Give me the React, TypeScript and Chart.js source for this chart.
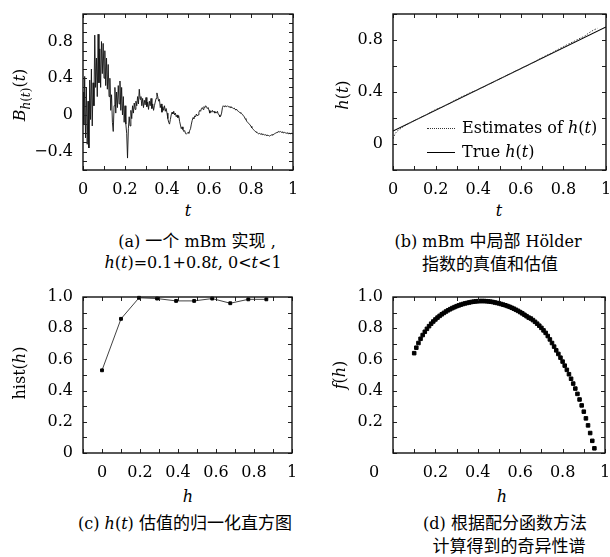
import React, { useEffect, useRef } from "react";
import { Chart, registerables } from "chart.js";
Chart.register(...registerables);

// ---------------- data ----------------
// (a) one mBm realisation, sampled every A_T_STEP in t
const A_T_STEP = 0.004;
const A_VALUES = [
  0.25, -0.1, 0.42, -0.25, 0.3, -0.32, 0.15, -0.36, 0.38, -0.05,
  0.5, -0.12, 0.35, 0.1, 0.87, 0.3, 0.62, 0.2, 0.88, 0.35,
  0.72, 0.3, 0.8, 0.45, 0.78, 0.4, 0.7, 0.32, 0.62, 0.28,
  0.55, 0.2, 0.4, 0.05, 0.22, -0.08, -0.18, 0.1, 0.3, 0.02,
  0.25, 0.08, 0.32, 0.12, 0.37, 0.05, 0.3, 0.0, 0.2, -0.08,
  0.1, -0.1, -0.2, -0.47, -0.15, -0.02, -0.12, 0.05, -0.04, 0.1,
  0.02, 0.13, 0.06, 0.15, 0.1, 0.2, 0.12, 0.28, 0.17, 0.2,
  0.1, 0.18, 0.08, 0.16, 0.11, 0.19, 0.09, 0.14, 0.06, 0.15,
  0.1, 0.18, 0.07, 0.12, 0.05, 0.1, 0.14, 0.18, 0.24, 0.2,
  0.15, 0.17, 0.08, 0.12, 0.03, 0.09, 0.05, 0.1, 0.04, 0.07,
  0.02, -0.04, -0.08, -0.1, -0.05, 0.0, 0.03, 0.01, 0.04, 0.0,
  0.02, -0.02, 0.0, -0.03, -0.01, -0.07, -0.11, -0.15, -0.13, -0.16,
  -0.18, -0.17, -0.2, -0.21, -0.2, -0.19, -0.2, -0.17, -0.15, -0.1,
  -0.06, -0.03, -0.04, -0.01, -0.02, 0.01, -0.01, 0.0, 0.03, 0.05,
  0.04, 0.07, 0.08, 0.06, 0.09, 0.08, 0.1, 0.09, 0.07, 0.08,
  0.05, 0.02, 0.04, 0.03, 0.05, 0.03, 0.04, 0.02, 0.03, 0.02,
  0.04, 0.01, 0.0, -0.02, -0.01, 0.02, 0.08, 0.1, 0.09, 0.1,
  0.095, 0.09, 0.1, 0.09, 0.085, 0.09, 0.08, 0.085, 0.075, 0.07,
  0.075, 0.06, 0.055, 0.06, 0.045, 0.04, 0.03, 0.025, 0.02, 0.01,
  0.005, -0.01, -0.02, -0.04, -0.05, -0.07, -0.08, -0.09, -0.1, -0.11,
  -0.125, -0.14, -0.15, -0.16, -0.17, -0.18, -0.185, -0.19, -0.2, -0.205,
  -0.2, -0.21, -0.205, -0.21, -0.215, -0.21, -0.22, -0.215, -0.22, -0.225,
  -0.22, -0.225, -0.23, -0.225, -0.22, -0.215, -0.22, -0.21, -0.205, -0.2,
  -0.195, -0.19, -0.185, -0.18, -0.185, -0.18, -0.19, -0.185, -0.19, -0.195,
  -0.19, -0.195, -0.2, -0.195, -0.2, -0.205, -0.2, -0.205, -0.2, -0.205,
  -0.2,
];
const A_X_TICKS = [0, 0.2, 0.4, 0.6, 0.8, 1];
const A_Y_TICKS = [-0.4, 0, 0.4, 0.8];

// (b) local Hölder exponent: estimates and true values
const B_EST_T = [0, 0.01, 0.02, 0.05, 0.1, 0.15, 0.2, 0.25, 0.3, 0.35, 0.4, 0.45, 0.5, 0.55, 0.6, 0.65, 0.7, 0.75, 0.8, 0.85, 0.88, 0.9, 0.92, 0.94, 0.96];
const B_EST_H = [0.04, 0.08, 0.1, 0.135, 0.18, 0.22, 0.265, 0.3, 0.345, 0.385, 0.42, 0.46, 0.5, 0.54, 0.58, 0.62, 0.665, 0.705, 0.75, 0.79, 0.815, 0.83, 0.855, 0.875, 0.89];
const B_TRUE_T = [0, 1];
const B_TRUE_H = [0.1, 0.9];
const B_X_TICKS = [0, 0.2, 0.4, 0.6, 0.8, 1];
const B_Y_TICKS = [0, 0.4, 0.8];

// (c) normalised histogram of h(t) estimates
const C_H = [0, 0.1, 0.195, 0.29, 0.39, 0.485, 0.58, 0.675, 0.77, 0.865];
const C_HIST = [0.53, 0.86, 0.995, 0.99, 0.975, 0.975, 0.99, 0.96, 0.985, 0.985];
const C_X_TICKS = [0, 0.2, 0.4, 0.6, 0.8, 1];
const C_Y_TICKS = [0, 0.2, 0.4, 0.6, 0.8, 1.0];

// (d) singularity spectrum
const D_H = [
  0.10, 0.11, 0.12, 0.13, 0.14, 0.15, 0.16, 0.17, 0.18, 0.19,
  0.20, 0.21, 0.22, 0.23, 0.24, 0.25, 0.26, 0.27, 0.28, 0.29,
  0.30, 0.31, 0.32, 0.33, 0.34, 0.35, 0.36, 0.37, 0.38, 0.39,
  0.40, 0.41, 0.42, 0.43, 0.44, 0.45, 0.46, 0.47, 0.48, 0.49,
  0.50, 0.51, 0.52, 0.53, 0.54, 0.55, 0.56, 0.57, 0.58, 0.59,
  0.60, 0.61, 0.62, 0.63, 0.64, 0.65, 0.66, 0.67, 0.68, 0.69,
  0.70, 0.71, 0.72, 0.73, 0.74, 0.75, 0.76, 0.77, 0.78, 0.79,
  0.80, 0.81, 0.82, 0.83, 0.84, 0.85, 0.86, 0.87, 0.88, 0.89,
  0.90, 0.91, 0.92, 0.93, 0.94, 0.95,
];
const D_F = [
  0.640, 0.675, 0.705, 0.732, 0.756, 0.777, 0.796, 0.813, 0.829, 0.843,
  0.856, 0.868, 0.879, 0.889, 0.898, 0.907, 0.915, 0.922, 0.929, 0.935,
  0.941, 0.946, 0.951, 0.955, 0.959, 0.962, 0.965, 0.968, 0.970, 0.972,
  0.973, 0.974, 0.974, 0.974, 0.973, 0.972, 0.970, 0.968, 0.965, 0.962,
  0.959, 0.955, 0.951, 0.947, 0.942, 0.937, 0.931, 0.925, 0.918, 0.911,
  0.903, 0.895, 0.886, 0.877, 0.868, 0.862, 0.852, 0.841, 0.829, 0.816,
  0.802, 0.786, 0.770, 0.750, 0.728, 0.705, 0.682, 0.658, 0.635, 0.611,
  0.586, 0.560, 0.533, 0.505, 0.476, 0.445, 0.413, 0.379, 0.343, 0.305,
  0.265, 0.222, 0.177, 0.128, 0.078, 0.030,
];
const D_X_TICKS = [0, 0.2, 0.4, 0.6, 0.8, 1];
const D_Y_TICKS = [0.2, 0.4, 0.6, 0.8, 1.0];

// ---------------- styling helpers ----------------
const SERIF = "'DejaVu Serif', 'Liberation Serif', serif";
const CJK = "'Noto Sans CJK SC', sans-serif";
const TICK_FONT = { family: SERIF, size: 16 };

const fmtPlain = (v: number) => {
  if (Math.abs(v) < 1e-9) return "0";
  if (Math.abs(v - 1) < 1e-9) return "1";
  return v.toFixed(1).replace("-", "\u2212");
};
const fmtOneDec = (v: number) => (Math.abs(v) < 1e-9 ? "0" : v.toFixed(1));

function axis(
  side: "x" | "y",
  min: number,
  max: number,
  ticks: number[],
  fmt: (v: number) => string,
  size: number,
  padding: number
) {
  return {
    type: "linear",
    min,
    max,
    afterBuildTicks: (s: any) => {
      s.ticks = ticks.map((v) => ({ value: v }));
    },
    afterFit: (s: any) => {
      if (side === "x") s.height = size;
      else s.width = size;
      s.paddingLeft = 0;
      s.paddingRight = 0;
      s.paddingTop = 0;
      s.paddingBottom = 0;
    },
    ticks: {
      font: TICK_FONT,
      color: "#000",
      padding,
      autoSkip: false,
      maxRotation: 0,
      minRotation: 0,
      callback: (v: any) => fmt(Number(v)),
    },
    grid: { display: false, drawTicks: false },
    border: { display: false },
  };
}

// frame with inward tick marks on all four sides
const framePlugin = {
  id: "frame",
  afterDatasetsDraw(chart: any, _args: any, opts: any) {
    const { ctx, chartArea: a, scales } = chart;
    const xs = scales.x;
    const ys = scales.y;
    const len = opts.len ?? 4;
    const list = (min: number, max: number, step: number) => {
      const out: number[] = [];
      for (let k = Math.ceil(min / step - 1e-6); k * step <= max + 1e-9; k++) out.push(k * step);
      return out;
    };
    ctx.save();
    ctx.strokeStyle = "#222";
    ctx.lineWidth = 1;
    for (const v of list(xs.min, xs.max, opts.xStep)) {
      const px = Math.round(xs.getPixelForValue(v)) + 0.5;
      ctx.beginPath();
      ctx.moveTo(px, a.bottom);
      ctx.lineTo(px, a.bottom - len);
      ctx.moveTo(px, a.top);
      ctx.lineTo(px, a.top + len);
      ctx.stroke();
    }
    for (const v of list(ys.min, ys.max, opts.yStep)) {
      const py = Math.round(ys.getPixelForValue(v)) + 0.5;
      ctx.beginPath();
      ctx.moveTo(a.left, py);
      ctx.lineTo(a.left + len, py);
      ctx.moveTo(a.right, py);
      ctx.lineTo(a.right - len, py);
      ctx.stroke();
    }
    ctx.lineWidth = 1.4;
    ctx.strokeStyle = "#111";
    ctx.strokeRect(a.left, a.top, a.right - a.left, a.bottom - a.top);
    // optional "0" label placed at the corner, left of the axis
    if (opts.zeroLabel) {
      const items = xs.getLabelItems(chart.chartArea);
      const ref = items.find((it: any) => it.label !== "");
      if (ref) {
        ctx.fillStyle = "#000";
        ctx.font = `${TICK_FONT.size}px ${SERIF}`;
        ctx.textAlign = "center";
        ctx.textBaseline = ref.options.textBaseline;
        ctx.fillText("0", xs.getPixelForValue(0) + opts.zeroLabel, ref.options.translation[1] + (ref.textOffset || 0));
      }
    }
    ctx.restore();
  },
};

function baseOptions(pad: any, xAxis: any, yAxis: any, frame: any) {
  return {
    responsive: false,
    maintainAspectRatio: false,
    animation: false,
    layout: { padding: pad },
    plugins: { legend: { display: false }, tooltip: { enabled: false }, frame },
    scales: { x: xAxis, y: yAxis },
    elements: { line: { tension: 0 } },
  };
}

const configA = () => ({
  type: "line",
  data: {
    datasets: [
      {
        data: A_VALUES.map((v, i) => ({ x: i * A_T_STEP, y: v })),
        borderColor: "#111",
        borderWidth: 0.9,
        pointRadius: 0,
        fill: false,
      },
    ],
  },
  options: baseOptions(
    { top: 14, right: 12, left: 0, bottom: 0 },
    axis("x", 0, 1, A_X_TICKS, fmtPlain, 30, 10),
    axis("y", -0.6, 1.1, A_Y_TICKS, fmtPlain, 83, 10),
    { xStep: 0.1, yStep: 0.1 }
  ),
  plugins: [framePlugin],
});

const configB = () => ({
  type: "line",
  data: {
    datasets: [
      {
        label: "Estimates of h(t)",
        data: B_EST_T.map((t, i) => ({ x: t, y: B_EST_H[i] })),
        borderColor: "#444",
        borderWidth: 1,
        borderDash: [1.5, 1.5],
        pointRadius: 0,
        fill: false,
      },
      {
        label: "True h(t)",
        data: B_TRUE_T.map((t, i) => ({ x: t, y: B_TRUE_H[i] })),
        borderColor: "#000",
        borderWidth: 1.1,
        pointRadius: 0,
        fill: false,
      },
    ],
  },
  options: baseOptions(
    { top: 14, right: 4, left: 0, bottom: 0 },
    axis("x", 0, 1, B_X_TICKS, fmtPlain, 30, 10),
    axis("y", -0.2, 1.0, B_Y_TICKS, fmtPlain, 88, 10),
    { xStep: 0.1, yStep: 0.2 }
  ),
  plugins: [framePlugin],
});

const configC = () => ({
  type: "line",
  data: {
    datasets: [
      {
        data: C_H.map((h, i) => ({ x: h, y: C_HIST[i] })),
        borderColor: "#111",
        borderWidth: 0.8,
        pointStyle: "rect",
        pointRadius: 2,
        pointBorderWidth: 1,
        pointBackgroundColor: "#000",
        pointBorderColor: "#000",
        fill: false,
        clip: 6,
      },
    ],
  },
  options: baseOptions(
    { top: 14, right: 13, left: 0, bottom: 0 },
    axis("x", -0.1, 1, C_X_TICKS, fmtPlain, 30, 10),
    axis("y", 0, 1.0, C_Y_TICKS, fmtOneDec, 83, 10),
    { xStep: 0.1, yStep: 0.1 }
  ),
  plugins: [framePlugin],
});

const configD = () => ({
  type: "scatter",
  data: {
    datasets: [
      {
        data: D_H.map((h, i) => ({ x: h, y: D_F[i] })),
        showLine: false,
        pointStyle: "rect",
        pointRadius: 2.5,
        pointBorderWidth: 1,
        pointBackgroundColor: "#000",
        pointBorderColor: "#000",
        clip: 6,
      },
    ],
  },
  options: baseOptions(
    { top: 14, right: 4, left: 0, bottom: 0 },
    axis("x", 0, 1, D_X_TICKS, (v) => (Math.abs(v) < 1e-9 ? "" : fmtPlain(v)), 30, 10),
    axis("y", 0, 1.0, D_Y_TICKS, fmtOneDec, 88, 10),
    { xStep: 0.1, yStep: 0.1, zeroLabel: -19 }
  ),
  plugins: [framePlugin],
});

function ChartCanvas(props: { left: number; top: number; width: number; height: number; config: () => any }) {
  const ref = useRef<HTMLCanvasElement | null>(null);
  useEffect(() => {
    const chart = new Chart(ref.current as HTMLCanvasElement, props.config() as any);
    return () => chart.destroy();
  }, []);
  return (
    <canvas
      ref={ref}
      width={props.width}
      height={props.height}
      style={{ position: "absolute", left: props.left, top: props.top, width: props.width, height: props.height }}
    />
  );
}

const base: React.CSSProperties = {
  position: "absolute",
  whiteSpace: "nowrap",
  fontFamily: SERIF,
  fontSize: 16,
  color: "#000",
  lineHeight: 1,
  transform: "translate(-50%, -50%)",
};
const rot: React.CSSProperties = { ...base, transform: "translate(-50%, -50%) rotate(-90deg)" };
const cj: React.CSSProperties = { fontFamily: CJK, fontSize: 17 };
const I = (p: { children: React.ReactNode }) => <i>{p.children}</i>;

export default function App() {
  return (
    <div style={{ position: "absolute", left: 0, top: 0, width: 610, height: 557, background: "#fff", overflow: "hidden" }}>
      <ChartCanvas left={0} top={0} width={305} height={200} config={configA} />
      <ChartCanvas left={305} top={0} width={305} height={200} config={configB} />
      <ChartCanvas left={0} top={283} width={305} height={200} config={configC} />
      <ChartCanvas left={305} top={283} width={305} height={200} config={configD} />

      {/* axis titles */}
      <div style={{ ...rot, left: 22, top: 95 }}>
        <I>B</I>
        <sub style={{ fontSize: 12 }}>
          <I>h</I>(<I>t</I>)
        </sub>
        (<I>t</I>)
      </div>
      <div style={{ ...base, left: 188, top: 211 }}>
        <I>t</I>
      </div>
      <div style={{ ...rot, left: 343, top: 95 }}>
        <I>h</I>(<I>t</I>)
      </div>
      <div style={{ ...base, left: 499, top: 211 }}>
        <I>t</I>
      </div>
      <div style={{ ...rot, left: 20, top: 373 }}>
        hist(<I>h</I>)
      </div>
      <div style={{ ...base, left: 188, top: 497 }}>
        <I>h</I>
      </div>
      <div style={{ ...rot, left: 340, top: 375 }}>
        <I>f</I>(<I>h</I>)
      </div>
      <div style={{ ...base, left: 502, top: 497 }}>
        <I>h</I>
      </div>

      {/* legend of (b) */}
      <div style={{ position: "absolute", left: 427, top: 128, width: 28, borderTop: "1.5px dotted #333" }} />
      <div style={{ ...base, transform: "translate(0, -50%)", left: 462, top: 128 }}>
        Estimates of <I>h</I>(<I>t</I>)
      </div>
      <div style={{ position: "absolute", left: 427, top: 152, width: 28, borderTop: "1.4px solid #000" }} />
      <div style={{ ...base, transform: "translate(0, -50%)", left: 462, top: 152 }}>
        True <I>h</I>(<I>t</I>)
      </div>

      {/* captions */}
      <div style={{ ...base, left: 197, top: 240 }}>
        (a) <span style={cj}>一个</span> mBm <span style={cj}>实现</span> ,
      </div>
      <div style={{ ...base, left: 193, top: 263 }}>
        <I>h</I>(<I>t</I>)=0.1+0.8<I>t</I>, 0&lt;<I>t</I>&lt;1
      </div>
      <div style={{ ...base, left: 488, top: 240 }}>
        (b) mBm <span style={cj}>中局部</span> Hölder
      </div>
      <div style={{ ...base, left: 490, top: 263 }}>
        <span style={cj}>指数的真值和估值</span>
      </div>
      <div style={{ ...base, left: 185, top: 522 }}>
        (c) <I>h</I>(<I>t</I>) <span style={cj}>估值的归一化直方图</span>
      </div>
      <div style={{ ...base, left: 505, top: 522 }}>
        (d) <span style={cj}>根据配分函数方法</span>
      </div>
      <div style={{ ...base, left: 509, top: 545 }}>
        <span style={cj}>计算得到的奇异性谱</span>
      </div>
    </div>
  );
}
